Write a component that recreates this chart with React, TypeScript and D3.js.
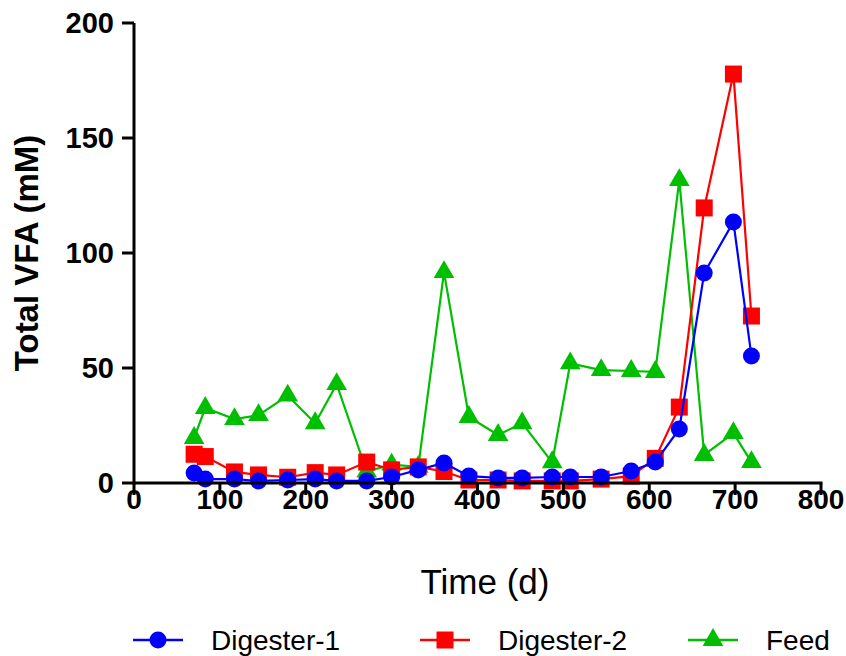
import React from "react";
import * as d3 from "d3";

// Sampling days (d)
const days = [70, 83, 117, 145, 179, 211, 236, 271, 300, 331, 361, 390, 424, 452, 487, 508, 544, 579, 607, 635, 664, 698, 719];

// Total VFA (mM)
const digester1 = [4.3, 1.7, 1.7, 0.9, 1.3, 1.7, 0.9, 0.9, 2.6, 5.7, 8.7, 3.0, 2.2, 2.2, 2.6, 2.6, 2.6, 5.2, 9.1, 23.5, 91.3, 113.5, 55.2];
const digester2 = [12.5, 11.5, 4.8, 3.5, 2.5, 4.5, 3.5, 9.1, 5.7, 7.0, 5.0, 1.3, 1.3, 0.9, 0.9, 0.9, 1.7, 3.0, 10.7, 33, 119.6, 177.8, 72.6];
const feed = [19.6, 32.6, 27.8, 29.5, 38, 26, 43, 5, 8, 7, 91.7, 28.7, 20.9, 26, 9, 52, 49.1, 48.7, 48.3, 131.7, 12.2, 21.7, 9.1];

const xTicks = [0, 100, 200, 300, 400, 500, 600, 700, 800];
const yTicks = [0, 50, 100, 150, 200];

const seriesNames = ["Digester-1", "Digester-2", "Feed"];
const seriesColors = ["#0000FF", "#FF0000", "#00BF00"];
const seriesShapes = ["circle", "square", "triangle"];

const W = 846;
const H = 656;
const FONT = "Arial, 'Liberation Sans', sans-serif";

const x = d3.scaleLinear().domain([0, 800]).range([134, 821]);
const y = d3.scaleLinear().domain([0, 200]).range([483, 23]);

function Marker({ shape, cx, cy, color }: { shape: string; cx: number; cy: number; color: string }) {
  if (shape === "circle") return <circle cx={cx} cy={cy} r={8.5} fill={color} />;
  if (shape === "square") return <rect x={cx - 8.5} y={cy - 8.5} width={17} height={17} fill={color} />;
  const tri = d3.symbol().type(d3.symbolTriangle).size(185)();
  return <path d={tri || ""} transform={`translate(${cx},${cy})`} fill={color} />;
}

export default function App() {
  const data = [digester1, digester2, feed];
  const line = d3
    .line<[number, number]>()
    .x((d) => x(d[0]))
    .y((d) => y(d[1]));

  // Feed first, digesters on top
  const order = [2, 1, 0];
  const legendX = [133, 420, 688];
  const legendY = 640;

  return (
    <svg width={W} height={H} style={{ position: "absolute", left: 0, top: 0, background: "#fff" }} fontFamily={FONT}>
      <rect width={W} height={H} fill="#fff" />

      {order.map((si) => {
        const pts = days.map((d, i) => [d, data[si][i]] as [number, number]);
        return (
          <g key={si}>
            <path d={line(pts) || ""} fill="none" stroke={seriesColors[si]} strokeWidth={2.2} />
            {pts.map((p, i) => (
              <Marker key={i} shape={seriesShapes[si]} cx={x(p[0])} cy={y(p[1])} color={seriesColors[si]} />
            ))}
          </g>
        );
      })}

      {/* axes */}
      <g stroke="#000" strokeWidth={3}>
        <line x1={x(0)} x2={x(0)} y1={y(200)} y2={y(0) + 1.5} />
        <line x1={x(0)} x2={x(800) + 1.5} y1={y(0)} y2={y(0)} />
        {yTicks.map((t) => (
          <line key={t} x1={x(0) - 12} x2={x(0)} y1={y(t)} y2={y(t)} />
        ))}
        {xTicks.map((t) => (
          <line key={t} x1={x(t)} x2={x(t)} y1={y(0)} y2={y(0) + 12} />
        ))}
      </g>

      {yTicks.map((t) => (
        <text key={t} x={x(0) - 20} y={y(t)} dy="0.36em" textAnchor="end" fontSize={29} fontWeight="bold">
          {t}
        </text>
      ))}
      {xTicks.map((t) => (
        <text key={t} x={x(t)} y={y(0) + 26} textAnchor="middle" fontSize={28} fontWeight="bold">
          {t}
        </text>
      ))}

      <text transform={`translate(38,253) rotate(-90)`} textAnchor="middle" fontSize={33} fontWeight="bold">
        Total VFA (mM)
      </text>
      <text x={485} y={594} textAnchor="middle" fontSize={35}>
        Time (d)
      </text>

      {seriesNames.map((name, i) => (
        <g key={name}>
          <line x1={legendX[i]} x2={legendX[i] + 50} y1={legendY} y2={legendY} stroke={seriesColors[i]} strokeWidth={2.5} />
          <Marker shape={seriesShapes[i]} cx={legendX[i] + 25} cy={legendY} color={seriesColors[i]} />
          <text x={legendX[i] + 78} y={legendY + 10} fontSize={28}>
            {name}
          </text>
        </g>
      ))}
    </svg>
  );
}
